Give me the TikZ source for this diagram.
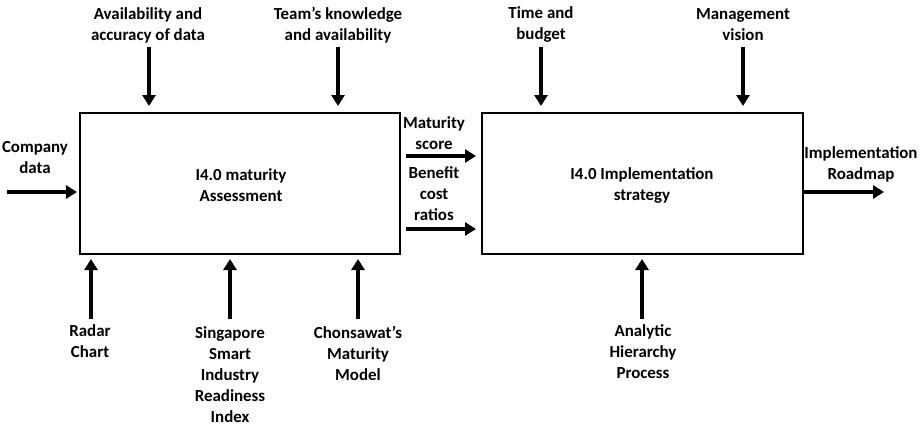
\documentclass[tikz,border=0pt]{standalone}
\usepackage{fontspec}
\setmainfont{Carlito}
\usetikzlibrary{arrows.meta}
\begin{document}
\begin{tikzpicture}[x=1pt,y=-1pt,
  lbl/.style={align=center,inner sep=0pt,font=\fontsize{16.9}{21}\selectfont\bfseries},
  box/.style={draw,line width=1.6pt},
  arr/.style={line width=3.6pt,-{Triangle[length=11pt,width=13pt]}}]
\useasboundingbox (0,0) rectangle (924,434);
% boxes
\draw[box] (80,113) rectangle (400,254);
\draw[box] (482,113) rectangle (803,254);
\node[lbl] (b1) at (241,185) {I4.0 maturity\\Assessment};
\node[lbl] (b2) at (642,185) {I4.0 Implementation\\strategy};
% labels
\node[lbl] (avail) at (148,25) {Availability and\\accuracy of data};
\node[lbl] (team) at (338,25) {Team’s knowledge\\and availability};
\node[lbl] (time) at (541,25) {Time and\\budget};
\node[lbl] (mgmt) at (743,25) {Management\\vision};
\node[lbl] (comp) at (35,158) {Company\\data};
\node[lbl] (mat) at (434,133) {Maturity\\score};
\node[lbl] (ben) at (434,194) {Benefit\\cost\\ratios};
\node[lbl] (road) at (861,164) {Implementation\\Roadmap};
\node[lbl,anchor=north] (radar) at (90,324) {Radar\\Chart};
\node[lbl,anchor=north] (sing) at (230,326) {Singapore\\Smart\\Industry\\Readiness\\Index};
\node[lbl,anchor=north] (chon) at (358,326) {Chonsawat’s\\Maturity\\Model};
\node[lbl,anchor=north] (ahp) at (643,324) {Analytic\\Hierarchy\\Process};
% arrow coordinates
\coordinate (a1s) at (149,47); \coordinate (a1e) at (149,106);
\coordinate (a2s) at (338,47); \coordinate (a2e) at (338,106);
\coordinate (a3s) at (541,47); \coordinate (a3e) at (541,106);
\coordinate (a4s) at (743,47); \coordinate (a4e) at (743,106);
\coordinate (cs) at (7,192); \coordinate (ce) at (77,192);
\coordinate (m1s) at (406,156); \coordinate (m1e) at (476,156);
\coordinate (m2s) at (406,229); \coordinate (m2e) at (476,229);
\coordinate (os) at (803,192); \coordinate (oe) at (884,192);
\coordinate (r1s) at (91,319); \coordinate (r1e) at (91,259);
\coordinate (r2s) at (230,319); \coordinate (r2e) at (230,259);
\coordinate (r3s) at (358,319); \coordinate (r3e) at (358,259);
\coordinate (r4s) at (642,319); \coordinate (r4e) at (642,259);
\foreach \s/\e in {a1s/a1e,a2s/a2e,a3s/a3e,a4s/a4e,cs/ce,m1s/m1e,m2s/m2e,os/oe,r1s/r1e,r2s/r2e,r3s/r3e,r4s/r4e}
  \draw[arr] (\s) -- (\e);
\end{tikzpicture}
\end{document}
